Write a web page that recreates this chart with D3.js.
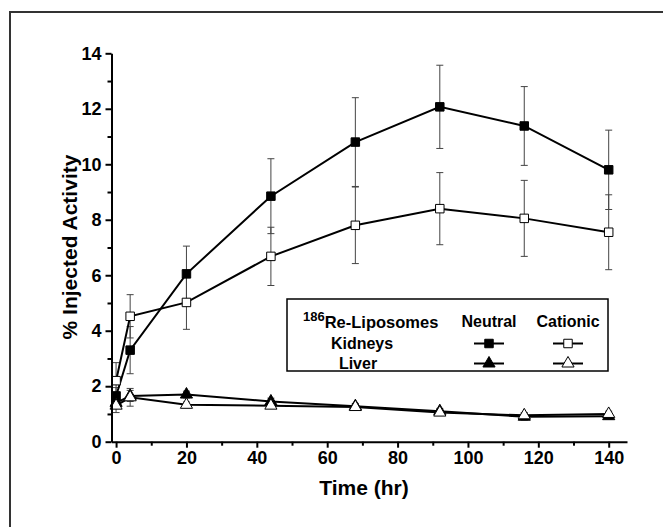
<!DOCTYPE html>
<html>
<head>
<meta charset="utf-8">
<script src="https://cdn.jsdelivr.net/npm/d3@7"></script>
<style>
  body { margin: 0; background: #fff; }
  text { font-family: "Liberation Sans", Arial, sans-serif; font-weight: bold; }
</style>
</head>
<body>
<svg id="chart" width="663" height="527"></svg>
<script>
// sampling times (hr)
const times = [0, 4, 20, 44, 68, 92, 116, 140];

// % injected activity
const kidneyNeutral     = [1.65, 3.3, 6.05, 8.85, 10.8, 12.07, 11.38, 9.8];
const kidneyNeutralErr  = [0.3, 0.85, 1.0, 1.35, 1.6, 1.5, 1.42, 1.43];
const kidneyCationic    = [2.2, 4.52, 5.02, 6.68, 7.8, 8.4, 8.05, 7.55];
const kidneyCationicErr = [0.65, 0.78, 0.97, 1.05, 1.38, 1.3, 1.37, 1.35];
const liverNeutral      = [1.4, 1.65, 1.7, 1.45, 1.28, 1.1, 0.9, 0.92];
const liverNeutralErr   = [0.15, 0.2, 0.12, 0.12, 0.1, 0.1, 0.12, 0.1];
const liverCationic     = [1.3, 1.6, 1.33, 1.3, 1.25, 1.05, 0.95, 1.0];
const liverCationicErr  = [0.25, 0.32, 0.1, 0.1, 0.1, 0.1, 0.1, 0.1];

const yTicks = [0, 2, 4, 6, 8, 10, 12, 14];
const xTicks = [0, 20, 40, 60, 80, 100, 120, 140];

const svg = d3.select("#chart");

// outer frame (only top and left edges show in the picture)
svg.append("path")
    .attr("d", "M10,527 L10,12 L663,12")
    .attr("fill", "none")
    .attr("stroke", "#333")
    .attr("stroke-width", 2);

const xScale = d3.scaleLinear().domain([-1.3, 145.2]).range([111.5, 627]);
const yScale = d3.scaleLinear().domain([0, 14]).range([441.7, 53.3]);

const series = [
    {vals: kidneyNeutral,  err: kidneyNeutralErr,  shape: "square",   fill: "#000"},
    {vals: kidneyCationic, err: kidneyCationicErr, shape: "square",   fill: "#fff"},
    {vals: liverNeutral,   err: liverNeutralErr,   shape: "triangle", fill: "#000"},
    {vals: liverCationic,  err: liverCationicErr,  shape: "triangle", fill: "#fff"}
];

const g = svg.append("g");

// error bars first, so markers sit on top
series.forEach(s => {
    const eb = g.append("g").attr("stroke", "#444").attr("stroke-width", 1);
    times.forEach((t, i) => {
        const x = xScale(t), lo = yScale(s.vals[i] - s.err[i]), hi = yScale(s.vals[i] + s.err[i]);
        eb.append("line").attr("x1", x).attr("x2", x).attr("y1", lo).attr("y2", hi);
        eb.append("line").attr("x1", x - 3.5).attr("x2", x + 3.5).attr("y1", lo).attr("y2", lo);
        eb.append("line").attr("x1", x - 3.5).attr("x2", x + 3.5).attr("y1", hi).attr("y2", hi);
    });
});

const line = d3.line().x(d => xScale(d[0])).y(d => yScale(d[1]));

const symSquare = d3.symbol().type(d3.symbolSquare).size(72);
const symTri = d3.symbol().type(d3.symbolTriangle).size(64);

series.forEach(s => {
    const pts = times.map((t, i) => [t, s.vals[i]]);
    g.append("path")
        .attr("d", line(pts))
        .attr("fill", "none")
        .attr("stroke", "#000")
        .attr("stroke-width", 2);
});

series.forEach(s => {
    const pts = times.map((t, i) => [t, s.vals[i]]);
    g.selectAll(null).data(pts).join("path")
        .attr("d", s.shape === "square" ? symSquare : symTri)
        .attr("transform", d => `translate(${xScale(d[0])},${yScale(d[1])})`)
        .attr("fill", s.fill)
        .attr("stroke", "#000")
        .attr("stroke-width", 1);
});

// axes
const xAxis = d3.axisBottom(xScale).tickValues(xTicks).tickSize(6).tickPadding(4).tickSizeOuter(0);
const xMinor = d3.axisBottom(xScale).tickValues([10, 30, 50, 70, 90, 110, 130]).tickSize(4).tickFormat("").tickSizeOuter(0);
const yAxis = d3.axisLeft(yScale).tickValues(yTicks).tickSize(6).tickPadding(4).tickSizeOuter(0);
const yMinor = d3.axisLeft(yScale).tickValues([1, 3, 5, 7, 9, 11, 13]).tickSize(4).tickFormat("").tickSizeOuter(0);

svg.append("g").attr("transform", `translate(0,${yScale(0)})`).call(xAxis);
svg.append("g").attr("transform", `translate(0,${yScale(0)})`).call(xMinor).select(".domain").remove();
svg.append("g").attr("transform", `translate(${xScale.range()[0]},0)`).call(yAxis);
svg.append("g").attr("transform", `translate(${xScale.range()[0]},0)`).call(yMinor).select(".domain").remove();

svg.selectAll(".domain").attr("stroke-width", 2).attr("stroke", "#000");
svg.selectAll(".tick line").attr("stroke-width", 2).attr("stroke", "#000");
svg.selectAll(".tick text").attr("font-size", 18).attr("font-weight", "bold")
    .attr("font-family", "Liberation Sans, Arial, sans-serif").attr("fill", "#000");

svg.append("text")
    .attr("x", 364).attr("y", 495)
    .attr("text-anchor", "middle")
    .attr("font-size", 21)
    .text("Time (hr)");

svg.append("text")
    .attr("transform", "translate(77,247) rotate(-90)")
    .attr("text-anchor", "middle")
    .attr("font-size", 21)
    .text("% Injected Activity");

// legend
const lg = svg.append("g");
lg.append("rect")
    .attr("x", 287).attr("y", 299).attr("width", 321).attr("height", 72)
    .attr("fill", "#fff").attr("stroke", "#000").attr("stroke-width", 1.5);

const title = lg.append("text").attr("x", 303).attr("y", 328).attr("font-size", 16.5);
title.append("tspan").attr("font-size", 13).attr("dy", -7).text("186");
title.append("tspan").attr("dy", 7).text("Re-Liposomes");

const rowLabels = ["Kidneys", "Liver"];
const colLabels = ["Neutral", "Cationic"];
const rowY = [343.5, 363.5];
const colX = [489, 568];

lg.selectAll(".collab").data(colLabels).join("text")
    .attr("x", (d, i) => colX[i]).attr("y", 327)
    .attr("text-anchor", "middle").attr("font-size", 16).text(d => d);

lg.selectAll(".rowlab").data(rowLabels).join("text")
    .attr("x", (d, i) => i === 0 ? 362 : 358).attr("y", (d, i) => rowY[i] + 5.5)
    .attr("text-anchor", "middle").attr("font-size", 16).text(d => d);

series.forEach((s, k) => {
    const cx = colX[k % 2], cy = rowY[Math.floor(k / 2)];
    lg.append("line").attr("x1", cx - 15).attr("x2", cx + 15).attr("y1", cy).attr("y2", cy)
        .attr("stroke", "#000").attr("stroke-width", 2);
    lg.append("path")
        .attr("d", s.shape === "square" ? symSquare : symTri)
        .attr("transform", `translate(${cx},${cy})`)
        .attr("fill", s.fill).attr("stroke", "#000").attr("stroke-width", 1);
});
</script>
</body>
</html>
